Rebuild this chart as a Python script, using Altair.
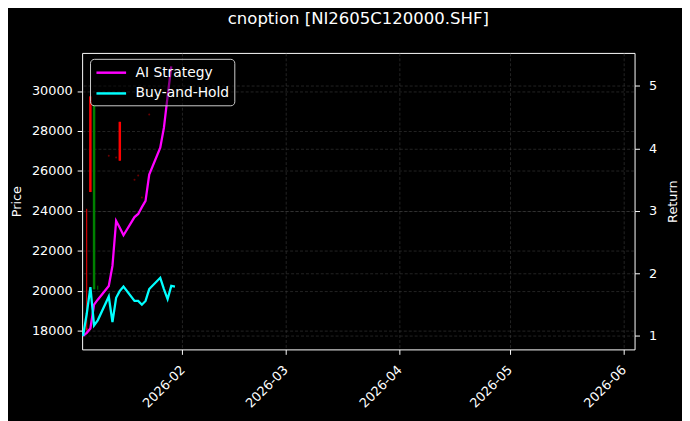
import pandas as pd
import altair as alt

# Trading days shown on the chart
dates = [
    "2026-01-05", "2026-01-06", "2026-01-07", "2026-01-08", "2026-01-09",
    "2026-01-12", "2026-01-13", "2026-01-14", "2026-01-15", "2026-01-16",
    "2026-01-19", "2026-01-20", "2026-01-21", "2026-01-22", "2026-01-23",
    "2026-01-26", "2026-01-27", "2026-01-28", "2026-01-29", "2026-01-30",
]

# Cumulative returns (right axis)
ai_strategy = [1.00, 1.05, 1.12, 1.50, 1.58, 1.80, 2.12, 2.84, 2.73, 2.61,
               2.90, 2.95, 3.06, 3.16, 3.58, 4.01, 4.33, 4.83, 5.31]
buy_hold = [1.00, 1.35, 1.78, 1.17, 1.25, 1.63, 1.22, 1.61, 1.72, 1.79,
            1.56, 1.56, 1.50, 1.56, 1.75, 1.93, 1.75, 1.59, 1.80, 1.79]

# Candles (left axis, price)
candle_dates = ["2026-01-06", "2026-01-07", "2026-01-08", "2026-01-09", "2026-01-15"]
candle_open = [18100, 29730, 20070, 20150, 28455]
candle_close = [18060, 24940, 29300, 20150, 26510]
candle_high = [24100, 29730, 29300, 20250, 28455]
candle_low = [18000, 24940, 20070, 20050, 26510]

# Faint near-flat candles
flat_dates = ["2026-01-12", "2026-01-14", "2026-01-19", "2026-01-20",
              "2026-01-21", "2026-01-23"]
flat_prices = [26757, 26673, 25554, 25767, 24663, 28822]

price_ticks = [18000, 20000, 22000, 24000, 26000, 28000, 30000]
return_ticks = [1, 2, 3, 4, 5]

FONT = "DejaVu Sans"


def x_enc():
    return alt.X(
        "date:T",
        title=None,
        scale=alt.Scale(
            type="utc",
            domain=[alt.DateTime(year=2026, month=1, date=4, hours=18, utc=True),
                    alt.DateTime(year=2026, month=6, date=4, utc=True)]),
        axis=alt.Axis(
            values=[alt.DateTime(year=2026, month=m, date=1, utc=True)
                    for m in range(2, 7)],
            labelExpr="utcFormat(datum.value, '%Y-%m')",
            labelAngle=-45, labelAlign="right", labelBaseline="top",
            labelPadding=9, labelOffset=-4, grid=True))


def price_scale():
    return alt.Scale(domain=[17060, 31906], nice=False, zero=False)


def price_axis():
    return alt.Axis(values=price_ticks, title="Price", orient="left",
                    format="d", grid=True, titlePadding=8)


def build_chart() -> alt.LayerChart:
    candles = pd.DataFrame({
        "date": candle_dates, "open": candle_open, "close": candle_close,
        "high": candle_high, "low": candle_low})
    candles["dir"] = ["up" if c >= o else "down"
                      for o, c in zip(candles["open"], candles["close"])]
    flats = pd.DataFrame({"date": flat_dates, "price": flat_prices})

    ai = pd.DataFrame({"date": dates[:len(ai_strategy)], "value": ai_strategy,
                       "series": "AI Strategy"})
    bh = pd.DataFrame({"date": dates, "value": buy_hold,
                       "series": "Buy-and-Hold"})
    lines_df = pd.concat([ai, bh], ignore_index=True)

    dir_stroke = alt.Stroke("dir:N", legend=None,
                            scale=alt.Scale(domain=["up", "down"],
                                            range=["#008000", "#ff0000"]))

    wicks = alt.Chart(candles).mark_rule(strokeWidth=1).encode(
        x=x_enc(),
        y=alt.Y("low:Q", scale=price_scale(), axis=price_axis()),
        y2="high:Q",
        stroke=dir_stroke)

    bodies = alt.Chart(candles).mark_rule(strokeWidth=2.5).encode(
        x=x_enc(),
        y=alt.Y("open:Q", scale=price_scale(), axis=price_axis()),
        y2="close:Q",
        stroke=dir_stroke)

    dots = alt.Chart(flats).mark_point(filled=True, size=4, color="#6a0000",
                                       opacity=1).encode(
        x=x_enc(),
        y=alt.Y("price:Q", scale=price_scale(), axis=price_axis()))

    price_layer = alt.layer(wicks, bodies, dots)

    lines = alt.Chart(lines_df).mark_line(strokeWidth=2.3).encode(
        x=x_enc(),
        y=alt.Y("value:Q", title="Return",
                scale=alt.Scale(domain=[0.785, 5.525], nice=False, zero=False),
                axis=alt.Axis(values=return_ticks, orient="right", grid=True,
                              titleAngle=270, titlePadding=23,
                              labelPadding=9)),
        color=alt.Color(
            "series:N", title=None,
            scale=alt.Scale(domain=["AI Strategy", "Buy-and-Hold"],
                            range=["#ff00ff", "#00ffff"]),
            legend=alt.Legend(orient="none", legendX=8, legendY=6,
                              symbolType="M-1,0H3", symbolStrokeWidth=2.5,
                              symbolSize=225, fillColor="rgba(0,0,0,0.45)",
                              strokeColor="#cccccc", cornerRadius=4,
                              padding=5, rowPadding=5, labelOffset=23)))

    chart = (
        alt.layer(price_layer, lines)
        .resolve_scale(y="independent", stroke="independent")
        .properties(
            width=559, height=300,
            autosize=alt.AutoSizeParams(type="none"),
            padding={"left": 75, "top": 43, "right": 48, "bottom": 70},
            background="black",
            title=alt.TitleParams("cnoption [NI2605C120000.SHF]", color="white",
                                  font=FONT, fontSize=16.7, fontWeight="normal",
                                  anchor="middle", frame="group", offset=26))
        .configure_view(fill="black", stroke="white", strokeWidth=1)
        .configure_axis(
            domain=False, tickColor="white", tickSize=5, tickWidth=1,
            labelColor="white", labelFont=FONT, labelFontSize=13,
            titleColor="white", titleFont=FONT, titleFontSize=13,
            titleFontWeight="normal", gridColor="#474747", gridDash=[3, 2],
            gridWidth=0.5, labelPadding=5)
        .configure_legend(labelColor="white", labelFont=FONT,
                          labelFontSize=14)
    )
    return chart


def main():
    chart = build_chart()
    chart.save("out.html", embed_options={"renderer": "svg", "actions": False})


if __name__ == "__main__":
    main()
